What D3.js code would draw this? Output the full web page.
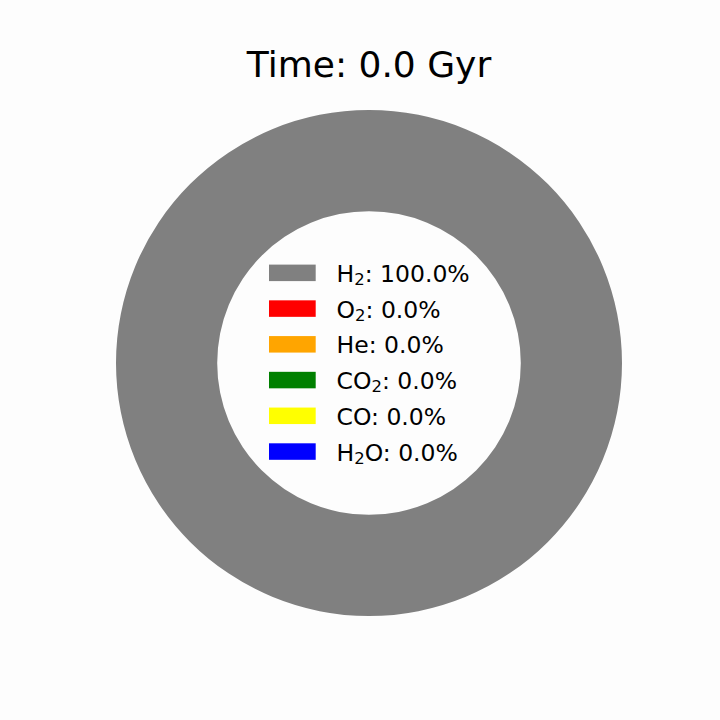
<!DOCTYPE html>
<html>
<head>
<meta charset="utf-8">
<script src="https://cdn.jsdelivr.net/npm/d3@7"></script>
<style>
  body { margin: 0; background: #fdfdfd; }
  svg { display: block; font-family: "DejaVu Sans", sans-serif; }
</style>
</head>
<body>
<svg id="chart1"></svg>
<script>
let titleText = "Time: 0.0 Gyr";
// gas names split as [main, subscript, rest]
let gases = [
  ["H", "2", ""],
  ["O", "2", ""],
  ["He", "", ""],
  ["CO", "2", ""],
  ["CO", "", ""],
  ["H", "2", "O"],
];
let fractions = [100.0, 0.0, 0.0, 0.0, 0.0, 0.0];
let colors = ["gray", "red", "orange", "green", "yellow", "blue"];

let data = gases.map((g, i) => ({ gas: g, value: fractions[i], color: colors[i] }));

let config = getConfig();
drawTitle(config);
drawDonut(data, config);
drawLegend(data, config);

function getConfig() {
  let width = 720;
  let height = 720;
  let cx = 369;
  let cy = 363;
  let outer = 253;
  let inner = outer * 0.6;

  let container = d3.select("#chart1");
  container.attr("width", width).attr("height", height);

  return { width, height, cx, cy, outer, inner, container };
}

function drawTitle({ container, cx }) {
  container
    .append("text")
    .attr("x", cx)
    .attr("y", 77)
    .attr("text-anchor", "middle")
    .style("font-size", "36px")
    .text(titleText);
}

function drawDonut(data, { container, cx, cy, outer, inner }) {
  let pie = d3.pie().sort(null).value((d) => d.value);
  let arc = d3.arc().innerRadius(inner).outerRadius(outer);

  container
    .append("g")
    .attr("transform", `translate(${cx},${cy})`)
    .selectAll("path")
    .data(pie(data).filter((d) => d.data.value > 0))
    .join("path")
    .attr("d", arc)
    .attr("fill", (d) => d.data.color);
}

function drawLegend(data, { container }) {
  let yScale = d3
    .scalePoint()
    .domain(d3.range(data.length))
    .range([272.8, 451.5]);

  let rows = container
    .append("g")
    .selectAll("g")
    .data(data)
    .join("g")
    .attr("transform", (d, i) => `translate(0,${yScale(i)})`);

  rows
    .append("rect")
    .attr("x", 269)
    .attr("y", -8.2)
    .attr("width", 46.7)
    .attr("height", 16.5)
    .attr("fill", (d) => d.color);

  let label = rows
    .append("text")
    .attr("x", 336.5)
    .attr("y", 9)
    .style("font-size", "23.5px");

  label.each(function (d) {
    let t = d3.select(this);
    let [main, sub, rest] = d.gas;
    let after = `${rest}: ${d.value.toFixed(1)}%`;
    t.append("tspan").text(main);
    if (sub) {
      t.append("tspan").attr("dy", 3).style("font-size", "16.5px").text(sub);
      t.append("tspan").attr("dy", -3).text(after);
    } else {
      t.append("tspan").text(after);
    }
  });
}
</script>
</body>
</html>
